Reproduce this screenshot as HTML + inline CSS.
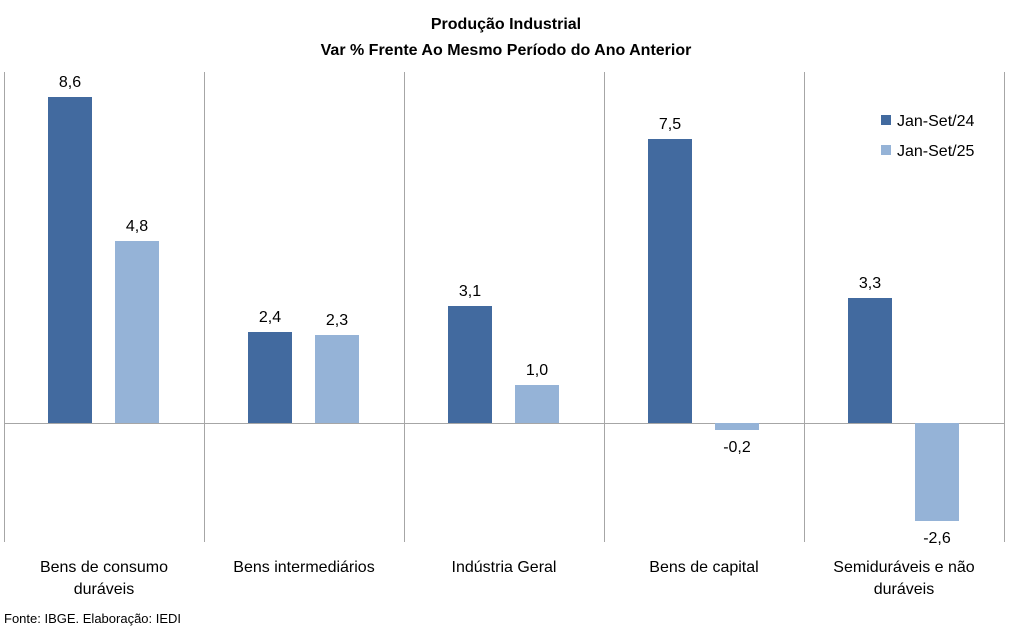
<!DOCTYPE html>
<html><head><meta charset="utf-8"><style>
body{margin:0;background:#fff;}
svg{display:block;font-family:"Liberation Sans",sans-serif;}
</style></head><body>
<svg width="1012" height="632" viewBox="0 0 1012 632">
<rect width="1012" height="632" fill="#fff"/>
<text x="506" y="29" text-anchor="middle" font-size="16" font-weight="bold" fill="#000">Produção  Industrial</text>
<text x="506" y="55" text-anchor="middle" font-size="16" font-weight="bold" fill="#000">Var % Frente Ao Mesmo Período do Ano Anterior</text>
<g stroke="#a6a6a6" stroke-width="1">
<line x1="4.5" y1="72" x2="4.5" y2="542"/>
<line x1="204.5" y1="72" x2="204.5" y2="542"/>
<line x1="404.5" y1="72" x2="404.5" y2="542"/>
<line x1="604.5" y1="72" x2="604.5" y2="542"/>
<line x1="804.5" y1="72" x2="804.5" y2="542"/>
<line x1="1004.5" y1="72" x2="1004.5" y2="542"/>
<line x1="4" y1="423.5" x2="1004" y2="423.5"/>
</g>
<g fill="#426a9f">
<rect x="48" y="97" width="44" height="326"/>
<rect x="248" y="332" width="44" height="91"/>
<rect x="448" y="306" width="44" height="117"/>
<rect x="648" y="139" width="44" height="284"/>
<rect x="848" y="298" width="44" height="125"/>
<rect x="881" y="115" width="10" height="10"/>
</g>
<g fill="#95b3d7">
<rect x="115" y="241" width="44" height="182"/>
<rect x="315" y="335" width="44" height="88"/>
<rect x="515" y="385" width="44" height="38"/>
<rect x="715" y="423" width="44" height="7"/>
<rect x="915" y="423" width="44" height="98"/>
<rect x="881" y="145" width="10" height="10"/>
</g>
<g font-size="16" fill="#000" text-anchor="middle">
<text x="70" y="87">8,6</text>
<text x="137" y="231">4,8</text>
<text x="270" y="322">2,4</text>
<text x="337" y="325">2,3</text>
<text x="470" y="296">3,1</text>
<text x="537" y="375">1,0</text>
<text x="670" y="129">7,5</text>
<text x="737" y="452">-0,2</text>
<text x="870" y="288">3,3</text>
<text x="937" y="543">-2,6</text>
<text x="104" y="572">Bens de consumo</text>
<text x="104" y="594">duráveis</text>
<text x="304" y="572">Bens intermediários</text>
<text x="504" y="572">Indústria Geral</text>
<text x="704" y="572">Bens de capital</text>
<text x="904" y="572">Semiduráveis e não</text>
<text x="904" y="594">duráveis</text>
</g>
<g font-size="16" fill="#000">
<text x="897" y="126">Jan-Set/24</text>
<text x="897" y="156">Jan-Set/25</text>
</g>
<text x="4" y="623" font-size="13" fill="#000">Fonte: IBGE. Elaboração: IEDI</text>
</svg>
</body></html>
